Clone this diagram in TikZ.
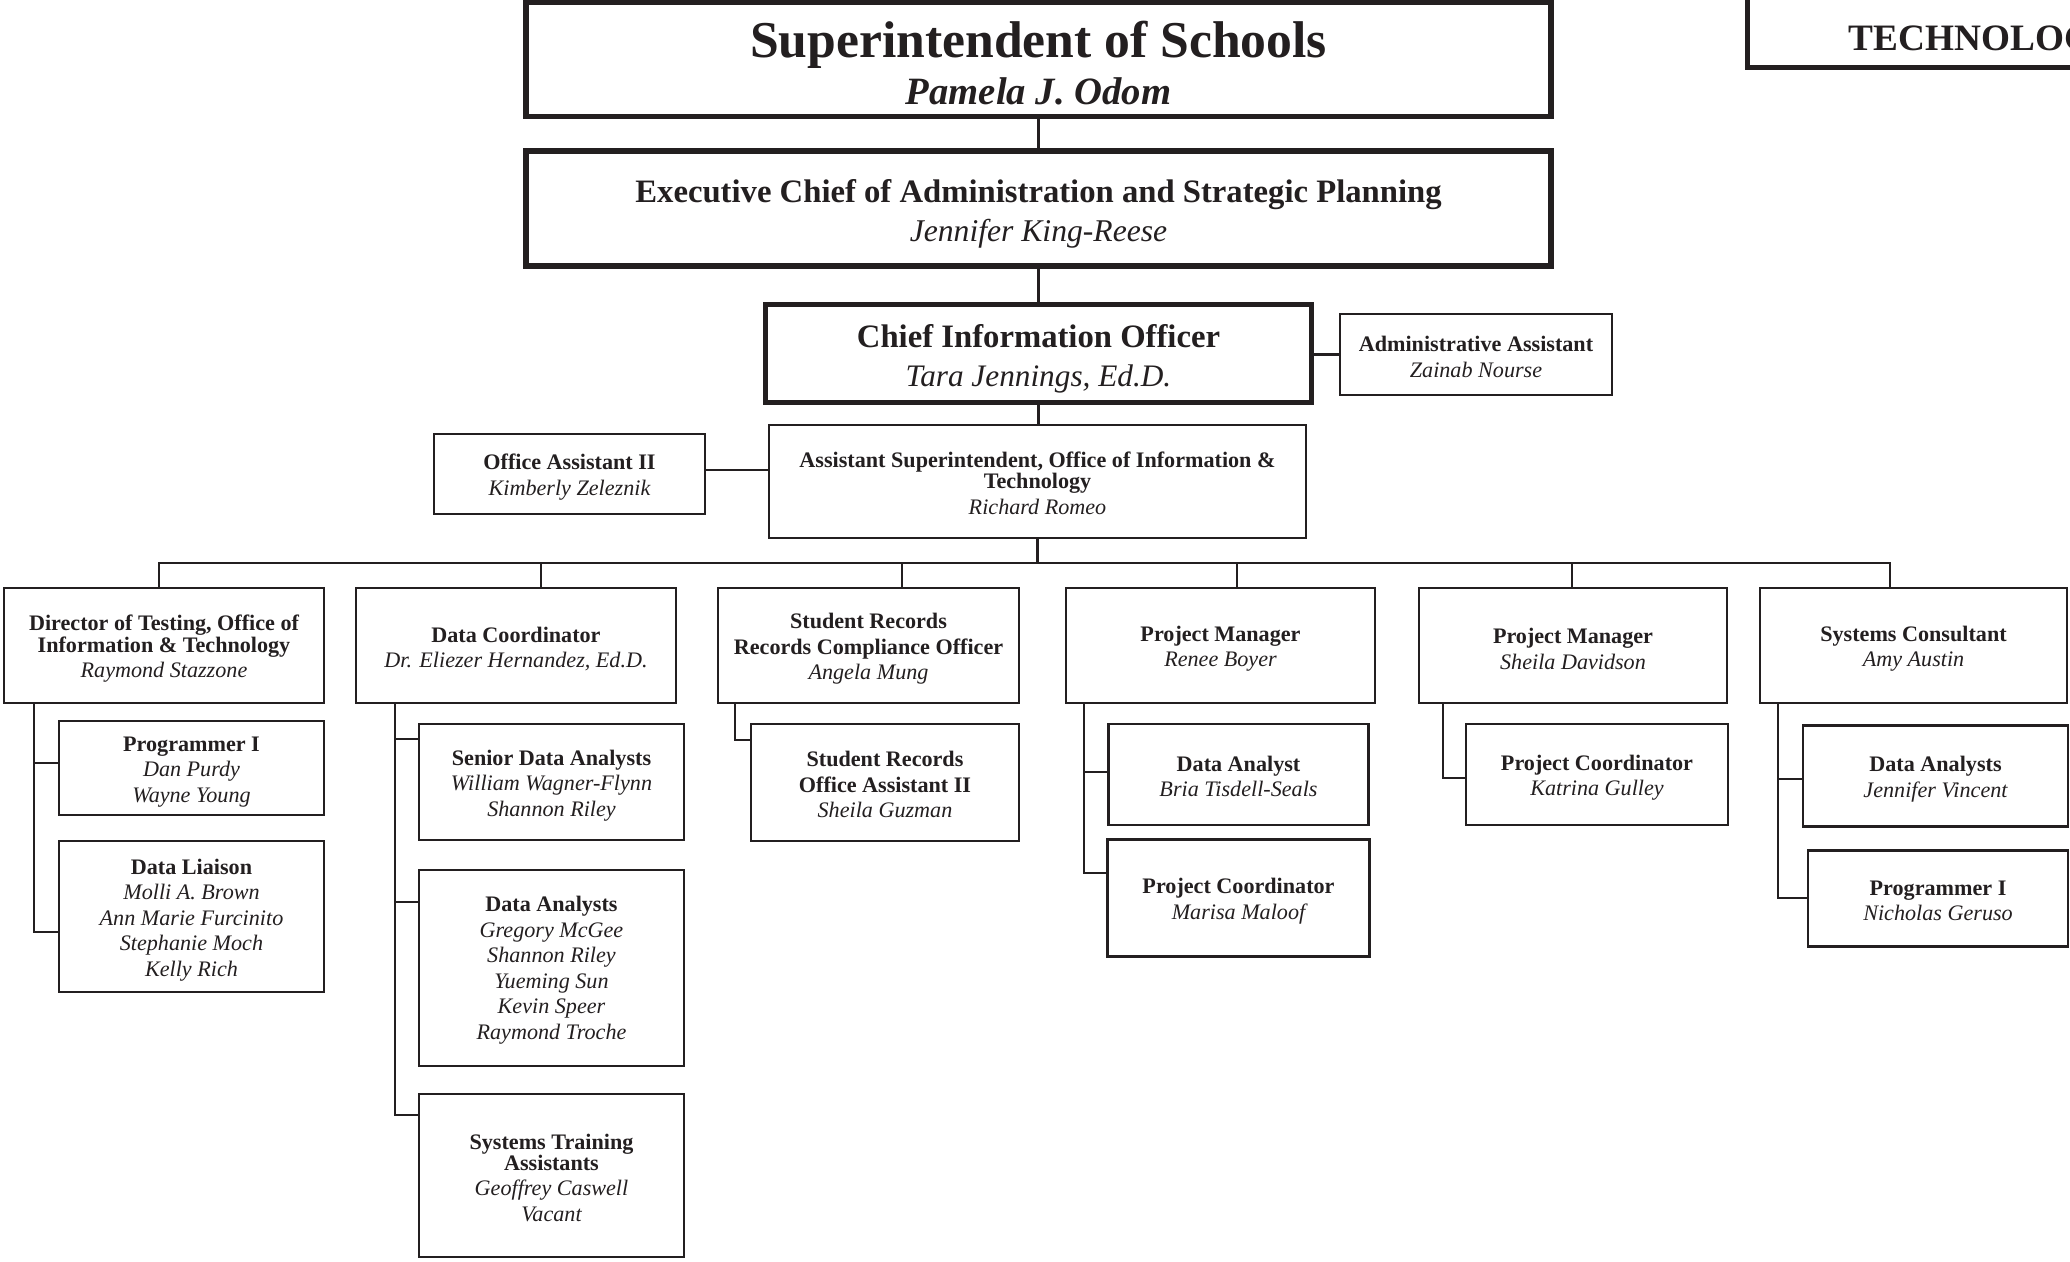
\documentclass[tikz,border=0pt]{standalone}
\usepackage{fontspec}
\setmainfont{Liberation Serif}
\usepackage{tikz}
\definecolor{ink}{RGB}{35,31,32}
\tikzset{
  post/.style={draw=ink, fill=white, text=ink, align=center, inner sep=1pt, outer sep=0pt,
    line width=0.65pt, font=\fontsize{6.3}{7.25}\selectfont\bfseries},
  toppost/.style={post, line width=1.45pt},
  link/.style={ink, line width=0.58pt}
}
\newcommand{\pname}[1]{{\mdseries\itshape #1}}
\newcommand{\tallline}[1][1.0em]{\rule{0pt}{#1}}

\begin{document}
\begin{tikzpicture}[y=-1cm]
  \useasboundingbox (0,0) rectangle (20.7,12.61);
  \clip (0,0) rectangle (20.7,12.61);
  \fill[white] (0,0) rectangle (20.7,12.61);

  % heads of the office
  \node[toppost, minimum width=10.25cm, minimum height=1.14cm, font=\fontsize{14.7}{13.4}\selectfont\bfseries]
    (supt) at (10.385,0.595) {\tallline[0.83em]Superintendent of Schools\\{\fontsize{11}{13.4}\selectfont\itshape Pamela J. Odom}};
  \node[toppost, minimum width=10.25cm, minimum height=1.15cm, font=\fontsize{9.3}{11.1}\selectfont\bfseries]
    (exec) at (10.385,2.085) {\tallline[1.03em]Executive Chief of Administration and Strategic Planning\\\pname{\fontsize{9}{11.1}\selectfont Jennifer King-Reese}};
  \node[toppost, minimum width=5.46cm, minimum height=0.98cm, font=\fontsize{9.3}{11.1}\selectfont\bfseries]
    (cio) at (10.385,3.535) {\tallline Chief Information Officer\\\pname{\fontsize{8.9}{11.1}\selectfont Tara Jennings, Ed.D.}};
  \node[post, minimum width=2.72cm, minimum height=0.81cm] (admin) at (14.76,3.545)
    {\tallline[0.9em]Administrative Assistant\\\pname{Zainab Nourse}};
  \node[post, minimum width=5.37cm, minimum height=1.13cm] (asup) at (10.375,4.815)
    {\tallline[0.85em]Assistant Superintendent, Office of Information \&\\[-1.2pt]Technology\\\pname{Richard Romeo}};
  \node[post, minimum width=2.71cm, minimum height=0.80cm] (oa2) at (5.695,4.74)
    {\tallline Office Assistant II\\\pname{Kimberly Zeleznik}};

  \draw[ink, line width=1.45pt] (17.475,-0.5) rectangle (22.5,0.675);
  \node[text=ink, anchor=base west, inner sep=0pt, font=\fontsize{10.6}{12}\selectfont\bfseries]
    (techname) at (18.48,0.50) {TECHNOLOGY};

  % second row
  \node[post, minimum width=3.20cm, minimum height=1.15cm] (dir) at (1.64,6.455)
    {\tallline Director of Testing, Office of\\[-1.2pt]Information \& Technology\\\pname{Raymond Stazzone}};
  \node[post, minimum width=3.20cm, minimum height=1.15cm] (dc) at (5.16,6.455)
    {\tallline Data Coordinator\\\pname{Dr. Eliezer Hernandez, Ed.D.}};
  \node[post, minimum width=3.01cm, minimum height=1.15cm] (sr) at (8.685,6.455)
    {\tallline Student Records\\Records Compliance Officer\\\pname{Angela Mung}};
  \node[post, minimum width=3.09cm, minimum height=1.15cm] (pm1) at (12.205,6.455)
    {\tallline Project Manager\\\pname{Renee Boyer}};
  \node[post, minimum width=3.08cm, minimum height=1.15cm] (pm2) at (15.73,6.455)
    {\tallline Project Manager\\\pname{Sheila Davidson}};
  \node[post, minimum width=3.07cm, minimum height=1.15cm] (sc) at (19.135,6.455)
    {\tallline Systems Consultant\\\pname{Amy Austin}};

  % third row
  \node[post, minimum width=2.65cm, minimum height=0.94cm] (p1) at (1.915,7.68)
    {\tallline Programmer I\\\pname{Dan Purdy}\\\pname{Wayne Young}};
  \node[post, minimum width=2.65cm, minimum height=1.51cm] (dl) at (1.915,9.165)
    {\tallline Data Liaison\\\pname{Molli A. Brown}\\\pname{Ann Marie Furcinito}\\\pname{Stephanie Moch}\\\pname{Kelly Rich}};
  \node[post, minimum width=2.65cm, minimum height=1.16cm] (sda) at (5.515,7.82)
    {\tallline Senior Data Analysts\\\pname{William Wagner-Flynn}\\\pname{Shannon Riley}};
  \node[post, minimum width=2.65cm, minimum height=1.96cm] (da) at (5.515,9.68)
    {\tallline[0.9em]Data Analysts\\\pname{Gregory McGee}\\\pname{Shannon Riley}\\\pname{Yueming Sun}\\\pname{Kevin Speer}\\\pname{Raymond Troche}};
  \node[post, minimum width=2.65cm, minimum height=1.63cm] (sta) at (5.515,11.755)
    {\tallline[0.9em]Systems Training\\[-1.2pt]Assistants\\\pname{Geoffrey Caswell}\\\pname{Vacant}};
  \node[post, minimum width=2.68cm, minimum height=1.17cm] (sroa) at (8.85,7.825)
    {\tallline[0.9em]Student Records\\Office Assistant II\\\pname{Sheila Guzman}};
  \node[post, minimum width=2.60cm, minimum height=1.01cm] (da1) at (12.385,7.745)
    {\tallline[0.85em]Data Analyst\\\pname{Bria Tisdell-Seals}};
  \node[post, minimum width=2.62cm, minimum height=1.17cm] (pc1) at (12.385,8.98)
    {\tallline Project Coordinator\\\pname{Marisa Maloof}};
  \node[post, minimum width=2.62cm, minimum height=1.01cm] (pc2) at (15.97,7.745)
    {\tallline Project Coordinator\\\pname{Katrina Gulley}};
  \node[post, minimum width=2.65cm, minimum height=1.01cm] (jv) at (19.355,7.76)
    {\tallline Data Analysts\\\pname{Jennifer Vincent}};
  \node[post, minimum width=2.60cm, minimum height=0.96cm] (p2) at (19.38,8.985)
    {\tallline[0.85em]Programmer I\\\pname{Nicholas Geruso}};

  % links down the top
  \draw[link] (supt.south) -- (exec.north);
  \draw[link] (exec.south) -- (cio.north);
  \draw[link] (cio.south) -- (cio.south |- asup.north);
  \draw[link] (admin.west) -- (admin.west -| cio.east);
  \coordinate (oa2Out) at ([yshift=0.04cm]oa2.east);
  \draw[link] (oa2Out) -- (oa2Out -| asup.west);

  % the bus
  \coordinate (bus) at (0,5.63);
  \coordinate (dirTop) at ([xshift=-0.05cm]dir.north);
  \coordinate (dcTop) at ([xshift=0.25cm]dc.north);
  \coordinate (srTop) at ([xshift=0.335cm]sr.north);
  \coordinate (pm1Top) at ([xshift=0.165cm]pm1.north);
  \coordinate (pm2Top) at ([xshift=-0.01cm]pm2.north);
  \coordinate (scTop) at ([xshift=-0.235cm]sc.north);
  \draw[link] (dirTop) -- (dirTop |- bus) -- (scTop |- bus) -- (scTop);
  \draw[link] (asup.south) -- (asup.south |- bus);
  \draw[link] (dcTop) -- (dcTop |- bus);
  \draw[link] (srTop) -- (srTop |- bus);
  \draw[link] (pm1Top) -- (pm1Top |- bus);
  \draw[link] (pm2Top) -- (pm2Top |- bus);

  % trunks to the third row
  \coordinate (dirT) at ([xshift=0.30cm]dir.south west);
  \coordinate (p1In) at ([yshift=-0.42cm]p1.north west);
  \coordinate (dlIn) at ([yshift=-0.91cm]dl.north west);
  \draw[link] (dirT) |- (dlIn);
  \draw[link] (p1In) -- (p1In -| dirT);

  \coordinate (dcT) at ([xshift=0.39cm]dc.south west);
  \coordinate (sdaIn) at ([yshift=-0.15cm]sda.north west);
  \coordinate (daIn) at ([yshift=-0.32cm]da.north west);
  \coordinate (staIn) at ([yshift=-0.21cm]sta.north west);
  \draw[link] (dcT) |- (staIn);
  \draw[link] (sdaIn) -- (sdaIn -| dcT);
  \draw[link] (daIn) -- (daIn -| dcT);

  \coordinate (srT) at ([xshift=0.17cm]sr.south west);
  \coordinate (sroaIn) at ([yshift=-0.16cm]sroa.north west);
  \draw[link] (srT) |- (sroaIn);

  \coordinate (pm1T) at ([xshift=0.18cm]pm1.south west);
  \coordinate (da1In) at ([yshift=-0.48cm]da1.north west);
  \coordinate (pc1In) at ([yshift=-0.335cm]pc1.north west);
  \draw[link] (pm1T) |- (pc1In);
  \draw[link] (da1In) -- (da1In -| pm1T);

  \coordinate (pm2T) at ([xshift=0.24cm]pm2.south west);
  \coordinate (pc2In) at ([yshift=-0.54cm]pc2.north west);
  \draw[link] (pm2T) |- (pc2In);

  \coordinate (scT) at ([xshift=0.18cm]sc.south west);
  \coordinate (jvIn) at ([yshift=-0.535cm]jv.north west);
  \coordinate (p2In) at ([yshift=-0.475cm]p2.north west);
  \draw[link] (scT) |- (p2In);
  \draw[link] (jvIn) -- (jvIn -| scT);
\end{tikzpicture}
\end{document}
